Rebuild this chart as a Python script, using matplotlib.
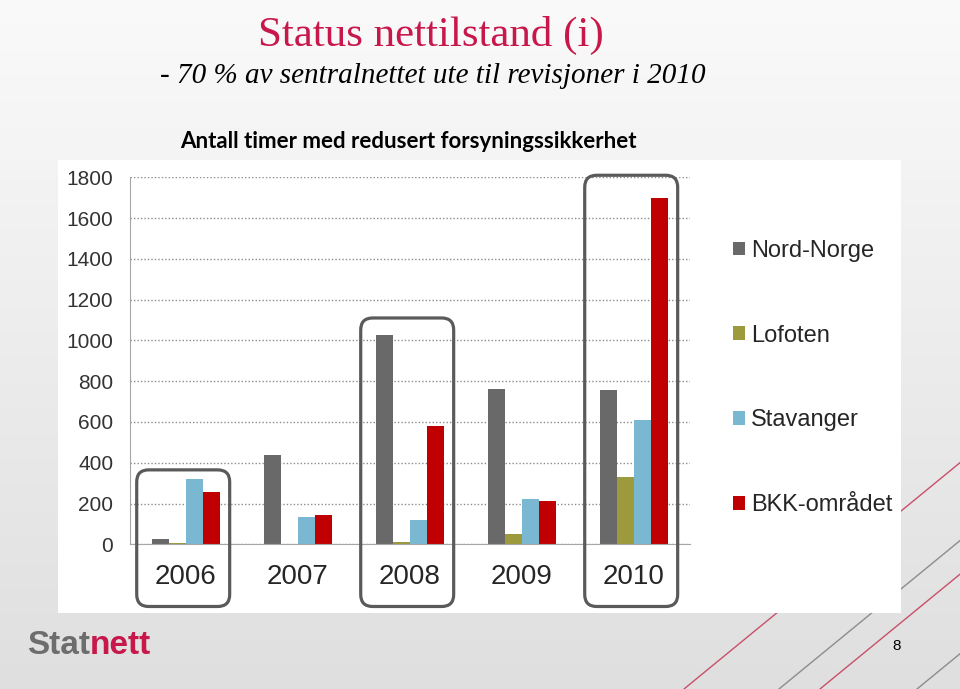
import numpy as np
import matplotlib
matplotlib.use("Agg")
import matplotlib.pyplot as plt
from matplotlib.patches import Patch, Rectangle, FancyBboxPatch
from matplotlib.transforms import IdentityTransform

# data
years = ['2006', '2007', '2008', '2009', '2010']
nord_norge = [25, 440, 1025, 763, 755]
lofoten = [5, 0, 11, 50, 329]
stavanger = [320, 132, 118, 221, 610]
bkk = [255, 142, 582, 211, 1700]
series_names = ['Nord-Norge', 'Lofoten', 'Stavanger', 'BKK-området']
series_colors = ['#696969', '#9c9a3c', '#7ab7d1', '#c00000']

# highlighted years (rounded boxes) and how high each box reaches
highlight_years = ['2006', '2008', '2010']
highlight_tops = [365, 1110, 1810]

W, H = 960, 689
fig = plt.figure(figsize=(W / 100, H / 100), dpi=100)

# slide background in pixel coords
bg = fig.add_axes([0, 0, 1, 1], zorder=0)
bg.set_xlim(0, W)
bg.set_ylim(H, 0)
bg.axis('off')
grad = np.linspace(0.98, 0.875, 256).reshape(-1, 1)
bg.imshow(np.dstack([grad, grad, grad]), extent=[0, W, H, 0], aspect='auto')

# decorative diagonal lines bottom right
for x_start, col in [(684, '#c8506a'), (779, '#8c8c8c'), (820, '#c8506a'), (917, '#8c8c8c')]:
    bg.plot([x_start, x_start + 400], [H, H - 0.82 * 400], color=col, lw=1.0)

# white chart panel
bg.add_patch(Rectangle((58, 160), 843, 453, facecolor='white', edgecolor='none', zorder=3))

# titles
fig.text(431 / W, 1 - 35 / H, 'Status nettilstand (i)', family='Liberation Serif',
         fontsize=31, color='#c8174a', ha='center', va='center')
fig.text(160 / W, 1 - 76 / H, '- 70 % av sentralnettet ute til revisjoner i 2010',
         family='Liberation Serif', style='italic', fontsize=21, color='black',
         ha='left', va='center')
fig.text(408 / W, 1 - 142 / H, 'Antall timer med redusert forsyningssikkerhet',
         family='Lato', weight='bold', fontsize=16, color='black', ha='center', va='center')

# chart
ax = fig.add_axes([130 / W, (H - 544.3) / H, 560 / W, 367 / H], zorder=5)
ax.set_facecolor('none')
x = np.arange(len(years))
bw = 0.15
all_series = [nord_norge, lofoten, stavanger, bkk]
for k, vals in enumerate(all_series):
    ax.bar(x + (k - 1.5) * bw, vals, width=bw, color=series_colors[k], zorder=3)

ax.set_xlim(-0.5, len(years) - 0.5)
ax.set_ylim(0, 1800)
ax.set_yticks(range(0, 1801, 200))
ax.set_xticks(x)
ax.set_xticklabels(years, fontsize=20, color='#262626', family='Liberation Sans')
for lab in ax.get_yticklabels():
    lab.set_fontsize(15)
    lab.set_color('#333333')
    lab.set_family('Liberation Sans')
ax.tick_params(length=0)
ax.tick_params(axis='y', pad=12)
ax.tick_params(axis='x', pad=14)
ax.yaxis.grid(True, linestyle=(0, (1, 1.5)), color='#8c8c8c', lw=1.0, zorder=0)
for s in ['top', 'right']:
    ax.spines[s].set_visible(False)
ax.spines['left'].set_color('#a6a6a6')
ax.spines['bottom'].set_color('#a6a6a6')
ax.spines['bottom'].set_zorder(4)

handles = [Patch(facecolor=c, edgecolor='none') for c in series_colors]
ax.legend(handles, series_names, loc='center left', bbox_to_anchor=(733 / W, 1 - 378 / H),
          bbox_transform=fig.transFigure, frameon=False,
          prop={'family': 'Liberation Sans', 'size': 17},
          handlelength=0.5, handleheight=0.5, handletextpad=0.25,
          labelspacing=2.66, borderpad=0, borderaxespad=0, labelcolor='#262626')

# rounded boxes around highlighted years
for yr, top in zip(highlight_years, highlight_tops):
    i = years.index(yr)
    x0, y0 = ax.transData.transform((i - 0.44, -305))
    x1, y1 = ax.transData.transform((i + 0.39, top))
    box = FancyBboxPatch((x0, y0), x1 - x0, y1 - y0, boxstyle='round,pad=0,rounding_size=12',
                         transform=IdentityTransform(), facecolor='none',
                         edgecolor='#5a5a5a', lw=2.3, zorder=10)
    fig.add_artist(box)

# Statnett logo and page number
t1 = fig.text(27 / W, 1 - 646 / H, 'Stat', family='Liberation Sans', weight='bold',
              fontsize=24, color='#6d6d6d', ha='left', va='center')
fig.canvas.draw()
bb = t1.get_window_extent()
fig.text(bb.x1 / W, 1 - 646 / H, 'nett', family='Liberation Sans', weight='bold',
         fontsize=24, color='#c8174a', ha='left', va='center')
fig.text(897 / W, 1 - 646 / H, '8', fontsize=11, color='black', ha='center', va='center',
         family='Liberation Sans')

fig.savefig('out.png', dpi=100)
